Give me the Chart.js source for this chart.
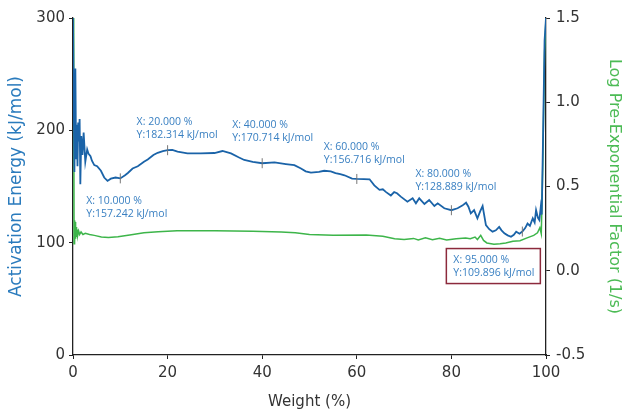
<!DOCTYPE html>
<html>
<head>
<meta charset="utf-8">
<script src="https://cdn.jsdelivr.net/npm/chart.js@4.4.1/dist/chart.umd.min.js"></script>
<style>
  html, body { margin: 0; padding: 0; background: #fff; }
  #wrap { width: 626px; height: 412px; }
</style>
</head>
<body>
<div id="wrap"><canvas id="kinetics"></canvas></div>
<script>
// activation energy curve (left axis)
const weightPct = [0,0.3,0.5,0.65,0.8,0.95,1.1,1.25,1.4,1.55,1.75,2.0,2.25,2.6,3.0,3.3,3.7,4.0,4.5,5.1,5.9,6.6,7.3,8.0,9.0,10.0,11.0,11.6,12.6,13.7,15.0,15.8,17.0,17.9,19.0,20.0,21.0,22.1,24.2,27,29.9,31.6,33.4,35,36.2,38,40.0,42.6,45,46.8,48.2,49.2,50.3,52,53.1,54.5,55.5,56.5,57.4,59,60.0,61.5,62.7,63.7,64.8,65.5,66.2,67.2,67.9,68.5,69.3,70.7,71.8,72.5,73.2,74.3,75.3,76.4,77.1,78.5,80.0,81.3,82.3,83.1,83.6,84.1,84.8,85.5,86.1,86.6,87.3,88.0,88.7,89.4,90.1,90.6,91.2,91.9,92.6,93.2,93.7,94.4,95.0,95.6,96.1,96.6,97.2,97.6,97.9,98.3,98.6,98.9,99.1,99.4,99.7,100];
const energyKJ = [300,163,255,175,205,168,207,190,210,152,195,178,198,172,183,179,177,173,169,168,164,158,155,157,158,157.2,160,162,166,168,172,174,178,180,181.5,182.3,182.5,181,179.5,179.5,179.8,181.6,179.5,176,173.6,172,170.7,171.5,170,169,166,163.5,162.3,163,164,163.5,162,161,160,157,156.7,156.5,156.4,151,147,147.5,145,142,145,144,141,136.5,139.5,135,139.5,134.4,138,132.6,135,130.6,128.9,130.6,133,135.6,132,126,129,121.7,128,132.6,115.7,112,109.8,111,114,111,108.3,106.5,105.3,107,109.8,108,109.9,113,117,115,121.7,118,129,122,120,132,125,200,280,300];

// log pre-exponential factor curve (right axis)
const weightPctLog = [0.15,0.22,0.3,0.38,0.46,0.55,0.65,0.75,0.85,1.0,1.2,1.4,1.7,2.1,2.6,3.5,4.5,6.0,7.5,9.5,12,15,18,22,30,38,44,47,50,55,62,65.5,68,70,72,73,74.5,76,77.5,79,81,83,84,85,85.5,86.2,86.8,87.5,89,90.3,91.5,93,94.5,96,97.4,98.2,98.7,99.0,99.3,99.7,100];
const logA = [1.5,0.16,0.3,0.17,0.29,0.19,0.26,0.2,0.245,0.21,0.235,0.215,0.23,0.215,0.222,0.215,0.21,0.2,0.198,0.202,0.212,0.225,0.232,0.237,0.237,0.235,0.23,0.225,0.215,0.21,0.212,0.205,0.19,0.185,0.192,0.183,0.195,0.184,0.193,0.182,0.19,0.195,0.19,0.2,0.185,0.21,0.18,0.165,0.158,0.16,0.165,0.175,0.178,0.195,0.21,0.225,0.255,0.22,0.6,1.3,1.5];

// cursor readouts
const markerX = [10, 20, 40, 60, 80, 95];
const markerY = [157.242, 182.314, 170.714, 156.716, 128.889, 109.896];

const xTicks = [0, 20, 40, 60, 80, 100];
const leftTicks = [0, 100, 200, 300];
const rightTicks = [-0.5, 0, 0.5, 1.0, 1.5];

// label placement relative to marker (text left, first line centre)
const labelOffsets = [[-34, 23], [-31, -28], [-30, -38], [-33, -32], [-36, -36], [-69, 28]];
const boxedLabel = 5;

const tickFont = { family: 'DejaVu Sans', size: 15 };
const ink = '#333';

const readoutPlugin = {
  id: 'readouts',
  afterDatasetsDraw(chart) {
    const ctx = chart.ctx;
    const xs = chart.scales.x, ys = chart.scales.yE;
    ctx.save();
    ctx.font = '10.5px "Open Sans"';
    ctx.textBaseline = 'middle';
    ctx.textAlign = 'left';
    markerX.forEach((mx, i) => {
      const px = xs.getPixelForValue(mx);
      const py = ys.getPixelForValue(markerY[i]);
      const tx = px + labelOffsets[i][0];
      const ty = py + labelOffsets[i][1];
      const l1 = 'X: ' + mx.toFixed(3) + ' %';
      const l2 = 'Y:' + markerY[i].toFixed(3) + ' kJ/mol';
      if (i === boxedLabel) {
        ctx.fillStyle = '#fff';
        ctx.fillRect(tx - 7, ty - 11, 94, 35);
        ctx.strokeStyle = '#8c2a3c';
        ctx.lineWidth = 1.5;
        ctx.strokeRect(tx - 7, ty - 11, 94, 35);
      }
      ctx.fillStyle = '#3a80c2';
      ctx.fillText(l1, tx, ty);
      ctx.fillText(l2, tx, ty + 13);
    });
    ctx.restore();
  }
};

new Chart(document.getElementById('kinetics').getContext('2d'), {
  type: 'line',
  data: {
    datasets: [
      {
        data: markerX.map((x, i) => ({ x: x, y: markerY[i] })),
        type: 'scatter',
        yAxisID: 'yE',
        pointStyle: 'line',
        rotation: 90,
        pointRadius: 5,
        borderColor: '#777',
        borderWidth: 1,
        order: 0
      },
      {
        data: weightPct.map((x, i) => ({ x: x, y: energyKJ[i] })),
        yAxisID: 'yE',
        borderColor: '#1a63a8',
        borderWidth: 1.8,
        pointRadius: 0,
        tension: 0,
        fill: false,
        order: 1
      },
      {
        data: weightPctLog.map((x, i) => ({ x: x, y: logA[i] })),
        yAxisID: 'yA',
        borderColor: '#3db54a',
        borderWidth: 1.5,
        pointRadius: 0,
        tension: 0,
        fill: false,
        order: 2
      }
    ]
  },
  options: {
    responsive: true,
    maintainAspectRatio: false,
    animation: false,
    layout: { padding: { top: 18, left: 0, right: 0, bottom: 0 } },
    plugins: { legend: { display: false }, tooltip: { enabled: false } },
    scales: {
      x: {
        type: 'linear',
        min: 0, max: 100,
        afterBuildTicks: s => { s.ticks = xTicks.map(v => ({ value: v })); },
        afterFit: s => { s.height = 57; },
        ticks: { font: tickFont, color: ink, padding: 5, maxRotation: 0 },
        grid: { drawOnChartArea: false, drawTicks: true, tickLength: 4, color: '#222' },
        border: { color: '#222', width: 1.3 },
        title: { display: true, text: 'Weight (%)', font: tickFont, color: ink, padding: 1 }
      },
      yE: {
        position: 'left',
        min: 0, max: 300,
        afterBuildTicks: s => { s.ticks = leftTicks.map(v => ({ value: v })); },
        afterFit: s => { s.width = 73; },
        ticks: { font: tickFont, color: ink, padding: 4 },
        grid: { drawOnChartArea: false, drawTicks: true, tickLength: 4, color: '#222' },
        border: { color: '#222', width: 1.3 },
        title: { display: true, text: 'Activation Energy (kJ/mol)', font: { family: 'DejaVu Sans', size: 17 }, color: '#2a7bbd', padding: 6 }
      },
      yA: {
        position: 'right',
        min: -0.5, max: 1.5,
        afterBuildTicks: s => { s.ticks = rightTicks.map(v => ({ value: v })); },
        afterFit: s => { s.width = 80; },
        ticks: { font: tickFont, color: ink, padding: 6, callback: v => v.toFixed(1) },
        grid: { drawOnChartArea: false, drawTicks: true, tickLength: 4, color: '#222' },
        border: { color: '#222', width: 1.3 },
        title: { display: true, text: 'Log Pre-Exponential Factor (1/s)', font: { family: 'DejaVu Sans', size: 16 }, color: '#4cbb55', padding: 2 }
      }
    }
  },
  plugins: [readoutPlugin]
});
</script>
</body>
</html>
